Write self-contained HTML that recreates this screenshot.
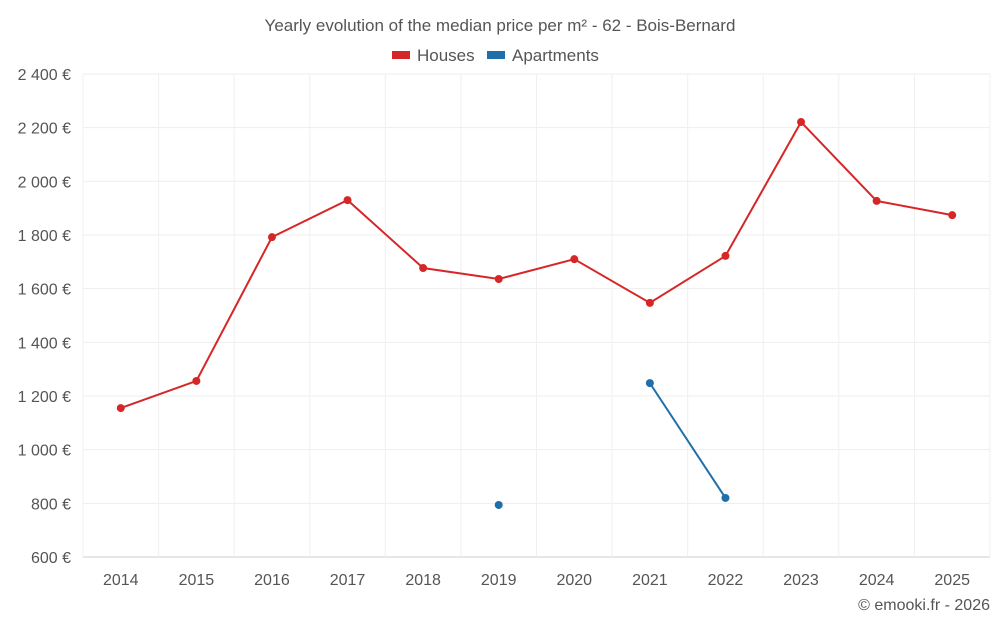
<!DOCTYPE html>
<html><head><meta charset="utf-8"><style>
body{margin:0;background:#fff;font-family:"Liberation Sans",sans-serif}
svg text{font-family:"Liberation Sans",sans-serif}
</style></head><body>
<svg id="c" width="1000" height="625">
<text x="500" y="31" text-anchor="middle" font-size="17" fill="#555">Yearly evolution of the median price per m² - 62 - Bois-Bernard</text>
<g>
<rect x="392" y="51" width="18" height="8" fill="#d62728"/>
<text x="417" y="61" font-size="17" fill="#555">Houses</text>
<rect x="487" y="51" width="18" height="8" fill="#1f6fa8"/>
<text x="512" y="61" font-size="17" fill="#555">Apartments</text>
</g>
<g id="grid"></g><g id="axes"></g><g id="series"></g>
<text x="990" y="610" text-anchor="end" font-size="16" fill="#555">© emooki.fr - 2026</text>
</svg>
<script>
const years=["2014","2015","2016","2017","2018","2019","2020","2021","2022","2023","2024","2025"];
const houses=[1155,1256,1792,1930,1677,1636,1710,1547,1722,2221,1927,1874];
const apartments=[null,null,null,null,null,794,null,1248,820,null,null,null];
const yTicks=[600,800,1000,1200,1400,1600,1800,2000,2200,2400];
const L=83,R=990,T=74,B=557,NS="http://www.w3.org/2000/svg";
const bw=(R-L)/years.length;
const x=i=>L+bw*(i+0.5);
const y=v=>B-(v-600)/(2400-600)*(B-T);
function mk(t,a,p){const e=document.createElementNS(NS,t);for(const k in a)e.setAttribute(k,a[k]);p.appendChild(e);return e;}
const g=document.getElementById('grid'),ax=document.getElementById('axes'),s=document.getElementById('series');
yTicks.forEach(v=>{
 const l=mk('line',{x1:L,x2:R,y1:y(v),y2:y(v),stroke:v===600?'#ccc':'#eee'},g);
 
 
 const t=mk('text',{x:71,y:y(v)+6,'text-anchor':'end','font-size':16,fill:'#555'},ax);
 t.textContent=v.toLocaleString('fr-FR').replace(/\s/g,' ')+' €';
 
 
});
for(let i=0;i<=years.length;i++){
 const l=mk('line',{x1:L+bw*i,x2:L+bw*i,y1:T,y2:B,stroke:'#f0f0f0'},g);
 
 
}
years.forEach((yr,i)=>{
 const t=mk('text',{x:x(i),y:585,'text-anchor':'middle','font-size':16,fill:'#555'},ax);
 t.textContent=yr;
 
 
});
function draw(data,color,name){
 let segs=[],cur=[];
 data.forEach((v,i)=>{if(v==null){if(cur.length)segs.push(cur);cur=[];}else cur.push([x(i),y(v)]);});
 if(cur.length)segs.push(cur);
 segs.forEach(sg=>{if(sg.length>1){const p=mk('polyline',{points:sg.map(q=>q.join(',')).join(' '),fill:'none',stroke:color,'stroke-width':2},s);
  
  }});
 data.forEach((v,i)=>{if(v==null)return;const c=mk('circle',{cx:x(i),cy:y(v),r:4,fill:color},s);
  
  });
}
draw(houses,'#d62728','houses');
draw(apartments,'#1f6fa8','apartments');
</script>
</body></html>
